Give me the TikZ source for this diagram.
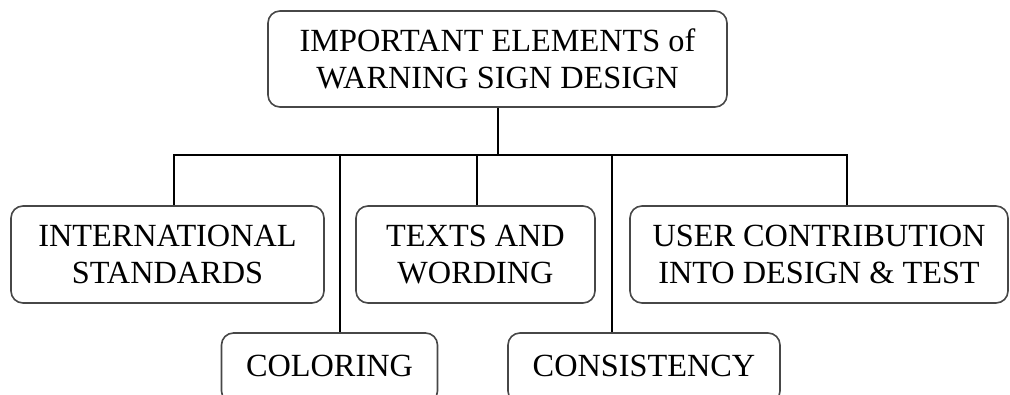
\documentclass[tikz,border=0pt]{standalone}
\usepackage{fontspec}
\setmainfont{Liberation Serif}
\begin{document}
\begin{tikzpicture}[x=1pt,y=-1pt,
  box/.style={draw=black!72, line width=1.6pt, rounded corners=12pt, align=center,
    inner sep=0pt, font=\fontsize{32.3}{37}\selectfont, text=black},
  link/.style={draw=black, line width=1.6pt}]
\useasboundingbox (0,0) rectangle (1010,394);
\clip (0,0) rectangle (1010,394);
\node[box, minimum width=459pt, minimum height=96pt] (top) at (497.5,59) {IMPORTANT ELEMENTS of\\WARNING SIGN DESIGN};
\node[box, minimum width=313pt, minimum height=97pt] (intl) at (167.5,254.5) {INTERNATIONAL\\STANDARDS};
\node[box, minimum width=239pt, minimum height=97pt] (texts) at (475.5,254.5) {TEXTS AND\\WORDING};
\node[box, minimum width=378pt, minimum height=97pt] (user) at (819,254.5) {USER CONTRIBUTION\\INTO DESIGN \& TEST};
\node[box, minimum width=216pt, minimum height=70pt] (color) at (329.5,368) {\raisebox{4pt}{COLORING}};
\node[box, minimum width=272pt, minimum height=70pt] (consist) at (644,368) {\raisebox{4pt}{CONSISTENCY}};
\coordinate (bus) at (498,155);
\coordinate (d1) at (174,155);
\coordinate (d2) at (340,155);
\coordinate (d3) at (477,155);
\coordinate (d4) at (612,155);
\coordinate (d5) at (847,155);
\draw[link] (top.south -| bus) -- (bus);
\draw[link] (d1 |- intl.north) -- (d1) -- (d5) -- (d5 |- user.north);
\draw[link] (d2) -- (d2 |- color.north);
\draw[link] (d3) -- (d3 |- texts.north);
\draw[link] (d4) -- (d4 |- consist.north);
\end{tikzpicture}
\end{document}
